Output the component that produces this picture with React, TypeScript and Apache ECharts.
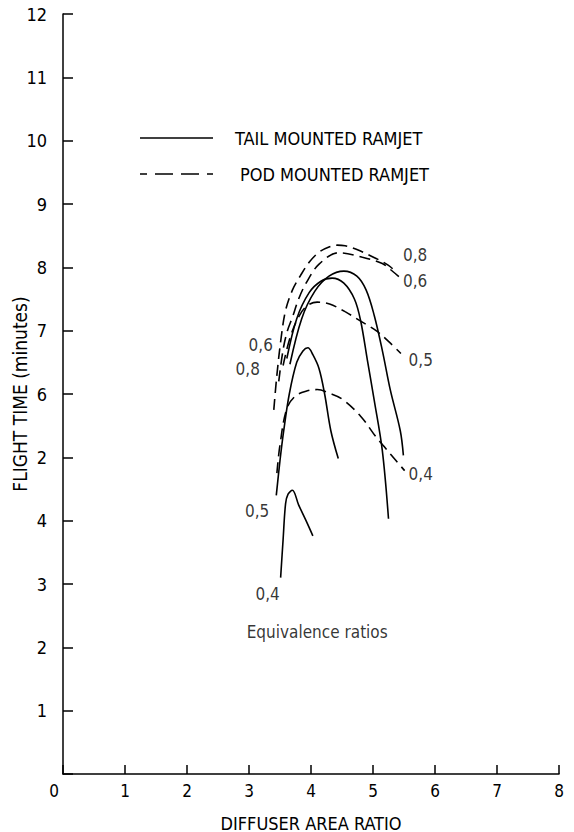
import React, { useEffect, useRef } from "react";
import * as echarts from "echarts";

const FONT = "'Liberation Sans Narrow', 'DejaVu Sans Condensed', 'Arial Narrow', sans-serif";

const xTickLabels = ["0", "1", "2", "3", "4", "5", "6", "7", "8"];
const yTickLabels = ["", "1", "2", "3", "4", "2", "6", "7", "8", "9", "10", "11", "12"];

// Tail mounted ramjet (solid)
const tail04X = [3.51, 3.55, 3.59, 3.63, 3.70, 3.80, 3.92, 4.03];
const tail04Y = [3.10, 3.70, 4.27, 4.42, 4.48, 4.25, 4.00, 3.76];
const tail05X = [3.44, 3.50, 3.56, 3.65, 3.77, 3.87, 3.95, 4.03, 4.13, 4.22, 4.32, 4.44];
const tail05Y = [4.40, 4.95, 5.42, 6.00, 6.50, 6.68, 6.73, 6.62, 6.40, 6.00, 5.42, 4.98];
const tail06X = [3.61, 3.77, 3.97, 4.16, 4.34, 4.53, 4.70, 4.80, 4.91, 5.02, 5.15, 5.25];
const tail06Y = [6.56, 7.19, 7.60, 7.78, 7.83, 7.75, 7.50, 7.16, 6.53, 5.90, 5.11, 4.03];
const tail08X = [3.66, 3.85, 4.06, 4.29, 4.53, 4.74, 4.89, 5.02, 5.15, 5.28, 5.44, 5.49];
const tail08Y = [6.47, 7.19, 7.62, 7.86, 7.94, 7.86, 7.64, 7.24, 6.69, 6.06, 5.42, 5.03];

// Pod mounted ramjet (dashed)
const pod04X = [3.45, 3.50, 3.61, 3.75, 3.94, 4.10, 4.30, 4.50, 4.80, 5.05, 5.18, 5.37, 5.51];
const pod04Y = [4.75, 5.20, 5.77, 5.97, 6.05, 6.07, 6.01, 5.92, 5.65, 5.32, 5.17, 4.95, 4.79];
const pod05X = [3.55, 3.65, 3.78, 3.92, 4.10, 4.30, 4.55, 4.80, 5.05, 5.25, 5.45];
const pod05Y = [6.45, 6.85, 7.18, 7.38, 7.45, 7.42, 7.30, 7.15, 7.00, 6.83, 6.64];
const pod06X = [3.48, 3.55, 3.62, 3.70, 3.80, 3.92, 4.13, 4.45, 4.83, 5.15, 5.30, 5.48];
const pod06Y = [6.20, 6.70, 7.00, 7.21, 7.50, 7.75, 8.05, 8.23, 8.16, 8.06, 7.95, 7.80];
const pod08X = [3.40, 3.45, 3.52, 3.59, 3.70, 3.83, 3.97, 4.13, 4.29, 4.42, 4.55, 4.72, 5.05, 5.25, 5.37];
const pod08Y = [5.75, 6.30, 6.90, 7.32, 7.64, 7.87, 8.08, 8.24, 8.32, 8.35, 8.34, 8.29, 8.14, 8.03, 7.93];

// Curve annotations
const noteTexts = ["0,8", "0,6", "0,5", "0,4", "0,6", "0,8", "0,5", "0,4", "Equivalence ratios"];
const noteX = [5.68, 5.68, 5.77, 5.77, 3.19, 2.98, 3.13, 3.30, 4.10];
const noteY = [8.19, 7.78, 6.53, 4.74, 6.77, 6.39, 4.16, 2.85, 2.25];

const legendTexts = ["TAIL MOUNTED RAMJET", "POD MOUNTED RAMJET"];

const zip = (xs: number[], ys: number[]) => xs.map((x, i) => [x, ys[i]]);

export default function App() {
  const ref = useRef<HTMLDivElement>(null);
  useEffect(() => {
    if (!ref.current) return;
    const chart = echarts.init(ref.current, null, { renderer: "svg" });
    const curve = (xs: number[], ys: number[], dashed: boolean) => ({
      type: "line",
      data: zip(xs, ys),
      smooth: 0.35,
      showSymbol: false,
      symbol: "none",
      silent: true,
      lineStyle: { color: "#000", width: 1.6, type: dashed ? [11, 6] : "solid" },
    });
    chart.setOption({
      animation: false,
      backgroundColor: "#fff",
      grid: { left: 63, right: 15, top: 14, bottom: 58, containLabel: false, outerBoundsMode: "none" },
      xAxis: {
        type: "value",
        min: 0,
        max: 8,
        interval: 1,
        name: "DIFFUSER AREA RATIO",
        nameLocation: "middle",
        nameGap: 40,
        nameMoveOverlap: false,
        nameTextStyle: { fontFamily: FONT, fontSize: 18, color: "#000" },
        axisLine: { lineStyle: { color: "#000", width: 1.5 } },
        axisTick: { inside: true, length: 9, lineStyle: { color: "#000", width: 1.5 } },
        axisLabel: {
          margin: 8,
          fontFamily: FONT,
          fontSize: 17,
          color: "#000",
          formatter: (v: number) => (v === 0 ? "{z|" + xTickLabels[0] + "}" : xTickLabels[v]),
          rich: { z: { fontFamily: FONT, fontSize: 17, color: "#000", padding: [0, 18, 0, 0] } },
        },
        splitLine: { show: false },
      },
      yAxis: {
        type: "value",
        min: 0,
        max: 12,
        interval: 1,
        name: "FLIGHT TIME (minutes)",
        nameLocation: "middle",
        nameGap: 34,
        nameMoveOverlap: false,
        nameTextStyle: { fontFamily: FONT, fontSize: 19, color: "#000" },
        axisLine: { lineStyle: { color: "#000", width: 1.5 } },
        axisTick: { inside: true, length: 10, lineStyle: { color: "#000", width: 1.5 } },
        axisLabel: {
          margin: 16,
          fontFamily: FONT,
          fontSize: 18,
          color: "#000",
          formatter: (v: number) => yTickLabels[v] ?? "",
        },
        splitLine: { show: false },
      },
      graphic: [
        { type: "line", shape: { x1: 140, y1: 138, x2: 213, y2: 138 }, style: { stroke: "#000", lineWidth: 1.5 } },
        { type: "line", shape: { x1: 140, y1: 174, x2: 213, y2: 174 }, style: { stroke: "#000", lineWidth: 1.5, lineDash: [18, 8], lineDashOffset: 11 } },
        { type: "text", x: 235, y: 138, style: { text: legendTexts[0], fontFamily: FONT, fontSize: 18, fill: "#000", textVerticalAlign: "middle" } },
        { type: "text", x: 240, y: 174, style: { text: legendTexts[1], fontFamily: FONT, fontSize: 18, fill: "#000", textVerticalAlign: "middle" } },
      ],
      series: [
        curve(tail04X, tail04Y, false),
        curve(tail05X, tail05Y, false),
        curve(tail06X, tail06Y, false),
        curve(tail08X, tail08Y, false),
        curve(pod04X, pod04Y, true),
        curve(pod05X, pod05Y, true),
        curve(pod06X, pod06Y, true),
        curve(pod08X, pod08Y, true),
        {
          type: "scatter",
          symbolSize: 0,
          silent: true,
          data: noteTexts.map((t, i) => ({ name: t, value: [noteX[i], noteY[i]] })),
          label: {
            show: true,
            position: "inside",
            formatter: (p: any) => p.name,
            fontFamily: FONT,
            fontSize: 17,
            color: "#000",
          },
        },
      ],
    });
    return () => chart.dispose();
  }, []);
  return <div ref={ref} style={{ position: "fixed", left: 0, top: 0, width: 574, height: 832 }} />;
}
